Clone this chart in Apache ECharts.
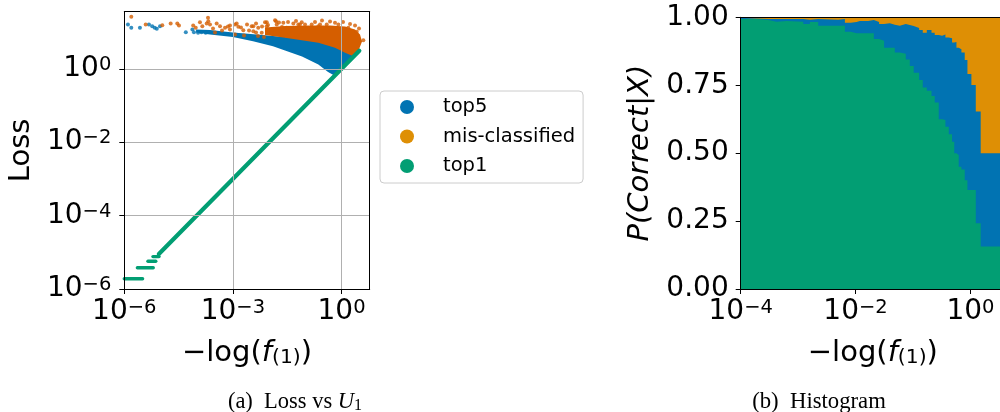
<!DOCTYPE html>
<html><head><meta charset="utf-8">
<script src="https://cdn.jsdelivr.net/npm/echarts/dist/echarts.min.js"></script>
<style>html,body{margin:0;padding:0;background:#fff;}#c{width:1000px;height:412px;}</style>
</head><body><div id="c"></div>
<script>
// ---------- (a) Loss vs U1 : scatter data [ -log(f1), loss ] ----------
const top5Sparse = [[1.26e-6,16.1],[1.56e-6,13.1],[2.7e-6,13.1],[4.8e-6,16.1],[5.9e-6,14.5],[6.9e-6,13.1],[7.9e-6,12.3],[9.7e-6,14.5],
  [5.0e-5,9.9],[7.6e-5,11.8],[8.4e-5,9.9],[1.09e-4,9.6],[1.34e-4,9.9],[1.77e-4,9.6],[0.207,8.6],[0.39,7.7],[0.35,8.6],[0.09,9.0]];
// dense region of top5 points (outline of the filled cloud)
const top5Cloud = [[9.6e-5,11.8],[2.33e-4,11.4],[1.0e-3,9.75],[2.16e-3,9.16],[3.78e-2,7.13],[0.255,5.54],[1.25,3.36],[2.52,2.78],[2.52,2.52],
  [0.65,0.65],[0.424,0.818],[0.229,1.31],[8.1e-2,2.16],[2.75e-2,3.15],[1.28e-2,4.13],[3.59e-3,5.65],[1.0e-3,7.35],[2.33e-4,8.6],[9.6e-5,9.75]];
const misSparse = [[1.56e-6,26.1],[3.9e-6,16.1],[1.12e-5,15.4],[1.91e-5,17.1],[2.91e-5,17.1],[3.24e-5,15.1],[8.0e-5,15.1],[9.4e-5,13.1],
  [1.23e-4,18.6],[1.43e-4,14.5],[1.89e-4,17.1],[2.05e-4,24.5],[2.09e-4,19.8],[2.33e-4,16.1],[3.56e-4,17.1],[4.4e-4,14.5],[6.05e-4,13.1],
  [8.3e-4,15.1],[8.3e-4,11.8],[1.14e-3,16.1],[1.27e-3,17.1],[1.41e-3,13.9],[1.94e-3,11.3],[3.3e-3,14.5],[3.66e-3,14.5],[3.66e-3,10.6],
  [5.0e-3,13.1],[6.25e-3,9.6],[7.7e-3,18.6],[8.6e-3,18.6],[8.6e-3,14.5],[1.18e-2,11.8],[1.46e-2,21.1],[1.55e-2,19.8],[1.62e-2,16.1],
  [2.0e-2,10.6],[2.47e-2,17.9],[3.06e-2,13.1],[4.67e-2,17.1],[6.4e-2,16.1],[7.96e-2,18.6],[9.8e-2,16.1],[0.15,16.1],[0.229,14.5],
  [0.255,16.1],[0.39,16.1],[0.66,17.9],[0.817,16.1],[1.54,13.1],[2.63,10.2],[4.0,6.0],
  [2.82e-4,12.5],[5.0e-4,11.1],[7.3e-4,14.2],[1.67e-3,13.3],[2.45e-3,16.1],[2.79e-3,11.1],[4.35e-3,17.1],[4.35e-3,9.75],[6.37e-3,14.2],
  [9.3e-3,15.6],[1.2e-2,9.16],[1.87e-2,18.3],[2.27e-2,13.8],[3.33e-2,18.8],[5.53e-2,20.1],[7.1e-2,16.1],[0.185,18.8],[0.289,20.7],
  [0.481,19.4],[1.10,18.8],[1.72,16.6],[2.36,15.1],[3.04,12.5],
  [3.2e-4,9.75],[1.14e-3,8.6],[2.03e-3,8.08],[4.93e-3,7.83],[7.2e-3,7.35]];
// dense region of mis-classified points (outline of the filled cloud)
const misCloud = [[7.7e-3,13.3],[2.75e-2,14.7],[0.135,15.1],[0.481,15.1],[1.25,14.2],[2.36,11.8],[3.24,8.6],[3.68,5.54],[2.9,3.02],
  [2.12,2.2],[1.25,2.73],[0.66,3.73],[0.229,5.11],[2.75e-2,7.0],[7.7e-3,8.3]];
// top1: loss equals -log(f1); quantised runs at the very bottom
const top1Diag = [[9.0e-6,9.0e-6],[3.1,3.1]];
const top1Runs = [[[1e-6,1.91e-6],[3.2e-6,1.91e-6]],[[2.3e-6,3.81e-6],[6.3e-6,3.81e-6]],[[4.5e-6,5.72e-6],[7.4e-6,5.72e-6]],[[6.2e-6,7.63e-6],[9.1e-6,7.63e-6]]];
const lossXTicks = [1e-6,1e-3,1];
const lossYTicks = [1e-6,1e-4,1e-2,1];

// ---------- (b) Histogram ----------
const binEdges = [1e-4,1.156e-4,1.9e-4,3.02e-4,4.23e-4,6.31e-4,1.23e-3,1.6e-3,2.24e-3,4.98e-3,6.52e-3,8.28e-3,1.04e-2,1.19e-2,1.66e-2,
  2.08e-2,2.57e-2,3.14e-2,3.95e-2,4.82e-2,5.89e-2,7.49e-2,8.8e-2,0.103,0.128,0.148,0.174,0.21,0.239,0.281,0.321,0.367,0.42,0.479,0.523,
  0.571,0.626,0.697,0.796,0.887,1.04,1.24,1.51,4.0];
const top1Frac = [0.994,0.994,0.990,0.984,0.986,0.984,0.975,0.983,0.969,0.969,0.947,0.941,0.941,0.941,0.941,0.92,0.914,0.888,0.888,0.870,
  0.866,0.845,0.821,0.796,0.769,0.742,0.730,0.710,0.686,0.625,0.622,0.597,0.570,0.542,0.50,0.493,0.45,0.44,0.40,0.364,0.364,0.242,0.156];
const top5Frac = [0.997,0.996,0.994,0.994,0.994,0.994,0.991,0.994,0.991,0.994,0.980,0.983,0.986,0.986,0.990,0.983,0.975,0.978,0.973,0.969,
  0.975,0.972,0.968,0.961,0.953,0.943,0.953,0.943,0.935,0.932,0.937,0.926,0.923,0.907,0.909,0.888,0.882,0.870,0.843,0.791,0.751,0.653,0.50];
const histXTicks = [1e-4,1e-2,1];
const histYTicks = [0,0.25,0.5,0.75,1];

// ---------- styling ----------
const FONT = 'DejaVu Sans';
const MINUS = '\u2212';
const C_BLUE = '#0173b2', C_ORANGE = '#de8f05', C_RED = '#d55e00', C_GREEN = '#029e73';
const powRich = {
  b: {fontFamily: FONT, fontSize: 28, lineHeight: 28, color: '#000'},
  s: {fontFamily: FONT, fontSize: 19.5, lineHeight: 14, verticalAlign: 'top', color: '#000'}
};
function powLabel(v) {
  const e = Math.round(Math.log10(v));
  return '{b|10}{s|' + (e < 0 ? MINUS + (-e) : e) + '}';
}
const xNameRich = {
  i: {fontFamily: FONT, fontSize: 29, lineHeight: 29, fontStyle: 'italic', color: '#000'},
  s: {fontFamily: FONT, fontSize: 20.3, lineHeight: 21, verticalAlign: 'bottom', color: '#000'}
};
const xName = MINUS + 'log({i|f}{s|(1)})';

function stepData(vals) {
  const d = vals.map((v, i) => [binEdges[i], v]);
  d.push([binEdges[binEdges.length - 1], vals[vals.length - 1]]);
  return d;
}
function polygonRender(verts, color) {
  return function (params, api) {
    if (params.dataIndex !== 0) return null;
    return {type: 'polygon', shape: {points: verts.map(v => api.coord(v))}, style: {fill: color}};
  };
}
const frameAxis = (gi, pos) => ({
  type: 'value', gridIndex: gi, position: pos, min: 0, max: 1, z: 10,
  axisLine: {show: true, onZero: false, lineStyle: {color: '#000', width: 1}},
  axisTick: {show: false}, axisLabel: {show: false}, splitLine: {show: false}
});
const tickStyle = {show: true, length: 5, inside: false, lineStyle: {color: '#000', width: 1}};

const chart = echarts.init(document.getElementById('c'), null, {renderer: 'canvas'});
chart.setOption({
  animation: false,
  backgroundColor: '#fff',
  textStyle: {fontFamily: FONT},
  grid: [
    {left: 124.3, top: 11.7, width: 245.4, height: 277.3, containLabel: false, outerBoundsMode: 'none'},
    {left: 740.7, top: 17.3, width: 264.3, height: 271.7, containLabel: false, outerBoundsMode: 'none'}
  ],
  xAxis: [
    {type: 'log', logBase: 1000, gridIndex: 0, position: 'bottom', min: 1e-6, max: 6.0, z: 10,
     name: xName, nameLocation: 'middle', nameGap: 50,
     nameTextStyle: {fontFamily: FONT, fontSize: 29, lineHeight: 29, color: '#000', rich: xNameRich},
     axisLine: {show: true, onZero: false, lineStyle: {color: '#000', width: 1}},
     axisTick: Object.assign({customValues: lossXTicks}, tickStyle),
     axisLabel: {customValues: lossXTicks, margin: 9, formatter: powLabel, rich: powRich},
     splitLine: {show: true, lineStyle: {color: '#b0b0b0', width: 1}}},
    frameAxis(0, 'top'),
    {type: 'log', logBase: 100, gridIndex: 1, position: 'bottom', min: 1e-4, max: 4.0, z: 10,
     name: xName, nameLocation: 'middle', nameGap: 50,
     nameTextStyle: {fontFamily: FONT, fontSize: 29, lineHeight: 29, color: '#000', rich: xNameRich},
     axisLine: {show: true, onZero: false, lineStyle: {color: '#000', width: 1}},
     axisTick: Object.assign({customValues: histXTicks}, tickStyle),
     axisLabel: {customValues: histXTicks, margin: 9, formatter: powLabel, rich: powRich},
     splitLine: {show: false}},
    frameAxis(1, 'top')
  ],
  yAxis: [
    {type: 'log', logBase: 100, gridIndex: 0, position: 'left', min: 1e-6, max: 36, z: 10,
     name: 'Loss', nameLocation: 'middle', nameGap: 88,
     nameTextStyle: {fontFamily: FONT, fontSize: 29, color: '#000'},
     axisLine: {show: true, onZero: false, lineStyle: {color: '#000', width: 1}},
     axisTick: Object.assign({customValues: lossYTicks}, tickStyle),
     axisLabel: {customValues: lossYTicks, margin: 13, formatter: powLabel, rich: powRich},
     splitLine: {show: true, lineStyle: {color: '#b0b0b0', width: 1}}},
    frameAxis(0, 'right'),
    {type: 'value', gridIndex: 1, position: 'left', min: 0, max: 1, interval: 0.25, z: 10,
     name: '{i|P}(Correct|X)', nameLocation: 'middle', nameGap: 86,
     nameTextStyle: {fontFamily: FONT, fontSize: 29, fontStyle: 'italic', color: '#000',
       rich: {i: {fontFamily: FONT, fontSize: 29, fontStyle: 'italic', color: '#000'}}},
     axisLine: {show: true, onZero: false, lineStyle: {color: '#000', width: 1}},
     axisTick: Object.assign({customValues: histYTicks}, tickStyle),
     axisLabel: {margin: 12, fontFamily: FONT, fontSize: 28, color: '#000', formatter: v => v.toFixed(2)},
     splitLine: {show: false}}
  ],
  legend: {
    orient: 'vertical', left: 380, top: 91, padding: [6, 8, 7, 20],
    itemWidth: 14, itemHeight: 14, itemGap: 9.5,
    borderColor: '#cccccc', borderWidth: 1, borderRadius: 4, backgroundColor: '#ffffff',
    selectedMode: false,
    textStyle: {fontFamily: FONT, fontSize: 19.5, lineHeight: 20, color: '#000', padding: [0, 0, 0, 24]},
    data: [
      {name: 'top5', icon: 'circle', itemStyle: {color: C_BLUE}},
      {name: 'mis-classified', icon: 'circle', itemStyle: {color: C_ORANGE}},
      {name: 'top1', icon: 'circle', itemStyle: {color: C_GREEN}}
    ]
  },
  graphic: [
    {type: 'text', x: 295, y: 402, style: {text: '(a)  Loss vs {i|U}{s|1}', align: 'center', verticalAlign: 'middle',
      fontFamily: 'Liberation Serif', fontSize: 22.5, fill: '#000',
      rich: {i: {fontFamily: 'Liberation Serif', fontSize: 22.5, fontStyle: 'italic', fill: '#000'},
             s: {fontFamily: 'Liberation Serif', fontSize: 16, verticalAlign: 'bottom', lineHeight: 15, fill: '#000'}}}},
    {type: 'text', x: 819, y: 402, style: {text: '(b)  Histogram', align: 'center', verticalAlign: 'middle',
      fontFamily: 'Liberation Serif', fontSize: 22.7, fill: '#000'}}
  ],
  series: [
    {type: 'custom', name: 'top5', xAxisIndex: 0, yAxisIndex: 0, z: 2, silent: true,
     data: [top5Cloud[0]], renderItem: polygonRender(top5Cloud, C_BLUE)},
    {type: 'scatter', name: 'top5', xAxisIndex: 0, yAxisIndex: 0, z: 3, silent: true,
     symbolSize: 4, itemStyle: {color: C_BLUE}, data: top5Sparse},
    {type: 'custom', name: 'mis-classified', xAxisIndex: 0, yAxisIndex: 0, z: 4, silent: true,
     data: [misCloud[0]], renderItem: polygonRender(misCloud, C_RED)},
    {type: 'scatter', name: 'mis-classified', xAxisIndex: 0, yAxisIndex: 0, z: 5, silent: true,
     symbolSize: 4, itemStyle: {color: C_RED}, data: misSparse},
    {type: 'line', name: 'top1', xAxisIndex: 0, yAxisIndex: 0, z: 6, silent: true, symbol: 'none',
     lineStyle: {color: C_GREEN, width: 4.2, cap: 'round'}, data: top1Diag},
    ...top1Runs.map(run => ({type: 'line', name: 'top1', xAxisIndex: 0, yAxisIndex: 0, z: 6, silent: true,
     symbol: 'none', lineStyle: {color: C_GREEN, width: 3.4, cap: 'round'}, data: run})),
    // histogram: stacked fractions, drawn back to front
    {type: 'line', name: 'hist-mis', xAxisIndex: 2, yAxisIndex: 2, z: 1, silent: true, step: 'end', symbol: 'none',
     lineStyle: {width: 0}, areaStyle: {color: C_ORANGE, opacity: 1}, data: stepData(top1Frac.map(() => 1))},
    {type: 'line', name: 'hist-top5', xAxisIndex: 2, yAxisIndex: 2, z: 2, silent: true, step: 'end', symbol: 'none',
     lineStyle: {width: 0}, areaStyle: {color: C_BLUE, opacity: 1}, data: stepData(top5Frac)},
    {type: 'line', name: 'hist-top1', xAxisIndex: 2, yAxisIndex: 2, z: 3, silent: true, step: 'end', symbol: 'none',
     lineStyle: {width: 0}, areaStyle: {color: C_GREEN, opacity: 1}, data: stepData(top1Frac)}
  ]
});
</script></body></html>
